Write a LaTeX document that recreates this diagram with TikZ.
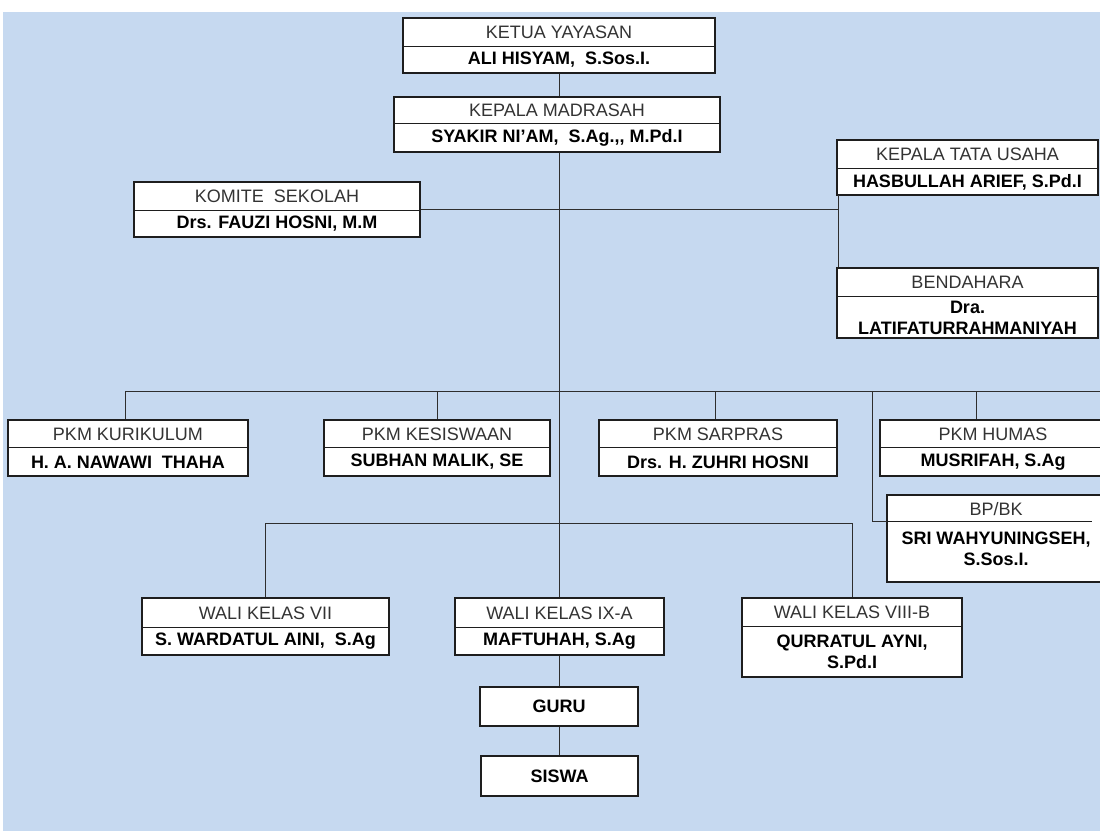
\documentclass[tikz,border=0pt]{standalone}
\usepackage{fontspec}
\setmainfont{Liberation Sans}
\usetikzlibrary{fit}
\definecolor{bgblue}{HTML}{C6D9F0}
\definecolor{ttl}{HTML}{333333}
\definecolor{edgec}{HTML}{1E1E1E}
\definecolor{connc}{HTML}{2E2E2E}
\tikzset{
  orgbox/.style={draw=edgec, line width=1.1pt, fill=white, inner sep=0pt},
  divline/.style={draw=edgec, line width=1pt},
  ttltext/.style={font=\fontsize{18}{20}\selectfont, text=ttl, inner sep=0pt},
  nametext/.style={font=\bfseries\fontsize{18}{21}\selectfont, text=black, inner sep=0pt, align=center},
  conline/.style={draw=connc, line width=1pt},
}
\newcommand\orgunit[8]{%
  \node[orgbox, fit={(#2,#3)(#4,#5)}] (#1) {};
  \draw[divline] (#2,#6) -- (#4,#6);
  \node[ttltext] (#1-t) at ({(#2+#4)/2},{(#3+#6)/2+0.5}) {#7};
  \node[nametext] (#1-n) at ({(#2+#4)/2},{(#6+#5)/2+0.5}) {#8};
}
\begin{document}
\begin{tikzpicture}[x=1pt,y=-1pt]
\useasboundingbox (0,0) rectangle (1100,831);
\fill[white] (0,0) rectangle (1100,831);
\fill[bgblue] (3,12) rectangle (1100,831);

% units
\orgunit{ketua}{403}{18}{715}{73}{46}{KETUA YAYASAN}{ALI HISYAM,\ \ S.Sos.I.}
\orgunit{kepala}{394}{97}{720}{152}{123}{KEPALA MADRASAH}{SYAKIR NI’AM,\ \ S.Ag.,{},{} M.Pd.I}
\orgunit{komite}{134}{182}{420}{237}{210}{KOMITE\ \ SEKOLAH}{Drs. FAUZI HOSNI, M.M}
\orgunit{tu}{837}{140}{1098}{195}{168}{KEPALA TATA USAHA}{HASBULLAH ARIEF, S.Pd.I}
\orgunit{bend}{837}{268}{1098}{338}{296}{BENDAHARA}{Dra.\\LATIFATURRAHMANIYAH}
\orgunit{kur}{8}{420}{248}{476}{447}{PKM KURIKULUM}{H. A. NAWAWI\ \ THAHA}
\orgunit{kes}{324}{420}{550}{476}{447}{PKM KESISWAAN}{SUBHAN MALIK, SE}
\orgunit{sar}{599}{420}{837}{476}{447}{PKM SARPRAS}{Drs. H. ZUHRI HOSNI}
\orgunit{hum}{880}{420}{1106}{476}{447}{PKM HUMAS}{MUSRIFAH, S.Ag}
% BP/BK
\node[orgbox, fit={(887,495)(1106,582)}] (bp) {};
\coordinate (bpd) at (887,521);
\draw[divline] (bpd) -- (1092,521);
\node[ttltext] (bp-t) at (996,509) {BP/BK};
\node[nametext] (bp-n) at (996,549) {SRI WAHYUNINGSEH,\\S.Sos.I.};
\orgunit{wa}{142}{598}{389}{655}{627}{WALI KELAS VII}{S. WARDATUL AINI,\ \ S.Ag}
\orgunit{wb}{455}{598}{664}{655}{627}{WALI KELAS IX-A}{MAFTUHAH, S.Ag}
\orgunit{wc}{742}{598}{962}{677}{626}{WALI KELAS VIII-B}{QURRATUL AYNI,\\S.Pd.I}
\node[orgbox, fit={(480,687)(638,726)}] (guru) {};
\node[nametext] (guru-n) at (guru.center) {GURU};
\node[orgbox, fit={(481,756)(638,796)}] (siswa) {};
\node[nametext] (siswa-n) at (siswa.center) {SISWA};

% connectors
\draw[conline] (ketua.south) -- (ketua.south |- kepala.north);
\draw[conline] (kepala.south -| ketua.south) -- (ketua.south |- wb.north);
\coordinate (tuv) at (838,195);
\draw[conline] (tuv) -- (tuv |- bend.north);
\draw[conline] (komite.east) -- (komite.east -| tuv);
% first bus
\coordinate (dKur) at (125,391);
\coordinate (dKes) at (437,391);
\coordinate (dSar) at (715,391);
\coordinate (dBP) at (872,391);
\coordinate (dHum) at (976,391);
\coordinate (bEnd) at (1106,391);
\draw[conline] (dKur) -- (bEnd);
\draw[conline] (dKur) -- (dKur |- kur.north);
\draw[conline] (dKes) -- (dKes |- kes.north);
\draw[conline] (dSar) -- (dSar |- sar.north);
\draw[conline] (dHum) -- (dHum |- hum.north);
\draw[conline] (dBP) |- (bpd);
% second bus
\coordinate (b2) at (559,523);
\draw[conline] (wa.north |- b2) -- (wc.north |- b2);
\draw[conline] (wa.north |- b2) -- (wa.north);
\draw[conline] (wc.north |- b2) -- (wc.north);
% lower chain
\draw[conline] (wb.south) -- (wb.south |- guru.north);
\draw[conline] (guru.south) -- (guru.south |- siswa.north);
\end{tikzpicture}
\end{document}
